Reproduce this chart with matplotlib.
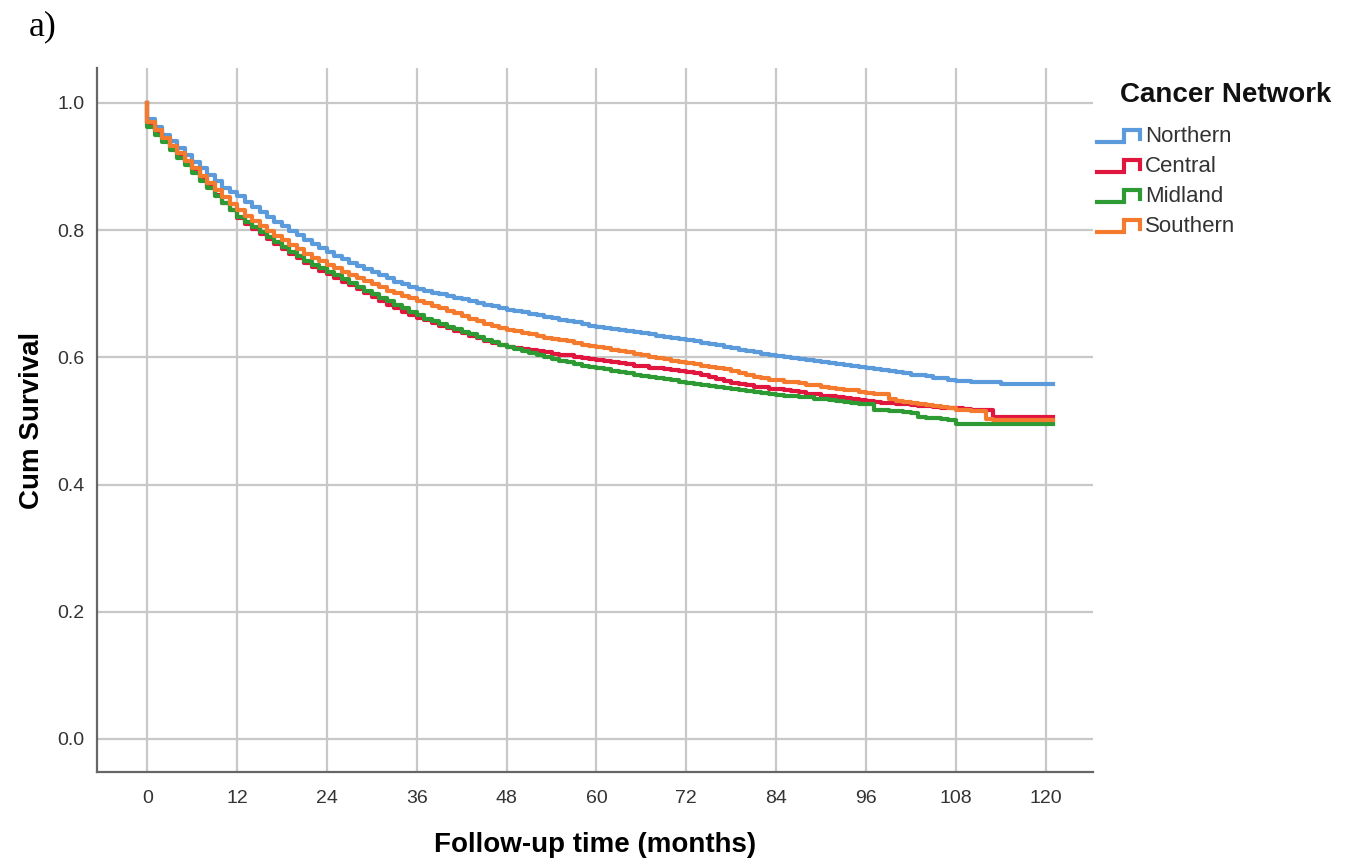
import matplotlib
matplotlib.use("Agg")
import matplotlib.pyplot as plt
from matplotlib.legend_handler import HandlerBase
from matplotlib.lines import Line2D
import numpy as np

plt.rcParams['font.family'] = ['Liberation Sans', 'DejaVu Sans']

# follow-up months (value at month m holds until month m+1)
months = np.arange(0, 122)

northern = [
    0.975, 0.962, 0.950, 0.940, 0.929, 0.918, 0.907, 0.897, 0.887, 0.877, 0.867, 0.860,
    0.853, 0.845, 0.837, 0.829, 0.821, 0.813, 0.806, 0.799, 0.792, 0.785, 0.778, 0.772,
    0.766, 0.760, 0.754, 0.749, 0.744, 0.739, 0.734, 0.729, 0.724, 0.719, 0.715, 0.711,
    0.707, 0.704, 0.701, 0.699, 0.696, 0.693, 0.691, 0.688, 0.686, 0.683, 0.681, 0.678,
    0.675, 0.673, 0.671, 0.668, 0.666, 0.664, 0.662, 0.659, 0.657, 0.655, 0.653, 0.650,
    0.648, 0.646, 0.645, 0.643, 0.641, 0.640, 0.638, 0.636, 0.634, 0.632, 0.630, 0.629,
    0.627, 0.625, 0.623, 0.621, 0.619, 0.616, 0.614, 0.612, 0.610, 0.608, 0.606, 0.604,
    0.602, 0.601, 0.599, 0.598, 0.596, 0.594, 0.593, 0.591, 0.590, 0.588, 0.587, 0.585,
    0.583, 0.582, 0.580, 0.578, 0.577, 0.575, 0.573, 0.572, 0.570, 0.568, 0.567, 0.565,
    0.563, 0.563, 0.562, 0.562, 0.562, 0.562, 0.558, 0.558, 0.558, 0.558, 0.558, 0.558,
    0.558, 0.558,
]

central = [
    0.968, 0.956, 0.944, 0.932, 0.920, 0.907, 0.894, 0.881, 0.868, 0.855, 0.843, 0.831,
    0.819, 0.810, 0.802, 0.794, 0.786, 0.778, 0.770, 0.763, 0.756, 0.749, 0.742, 0.736,
    0.731, 0.725, 0.719, 0.713, 0.707, 0.701, 0.695, 0.689, 0.683, 0.677, 0.672, 0.667,
    0.662, 0.658, 0.654, 0.650, 0.646, 0.642, 0.638, 0.634, 0.630, 0.626, 0.623, 0.620,
    0.617, 0.615, 0.613, 0.611, 0.610, 0.608, 0.606, 0.604, 0.603, 0.601, 0.599, 0.598,
    0.596, 0.594, 0.592, 0.591, 0.589, 0.587, 0.586, 0.584, 0.583, 0.581, 0.580, 0.578,
    0.577, 0.575, 0.572, 0.569, 0.566, 0.563, 0.560, 0.558, 0.556, 0.554, 0.553, 0.551,
    0.550, 0.548, 0.547, 0.545, 0.543, 0.542, 0.540, 0.539, 0.537, 0.536, 0.534, 0.533,
    0.531, 0.530, 0.529, 0.528, 0.527, 0.526, 0.525, 0.524, 0.523, 0.522, 0.521, 0.520,
    0.520, 0.519, 0.518, 0.518, 0.517, 0.507, 0.506, 0.506, 0.506, 0.506, 0.506, 0.506,
    0.506, 0.506,
]

midland = [
    0.962, 0.950, 0.938, 0.926, 0.914, 0.902, 0.890, 0.878, 0.866, 0.854, 0.843, 0.832,
    0.821, 0.813, 0.805, 0.797, 0.789, 0.781, 0.773, 0.766, 0.759, 0.752, 0.746, 0.740,
    0.735, 0.729, 0.723, 0.717, 0.711, 0.705, 0.699, 0.693, 0.688, 0.682, 0.677, 0.671,
    0.666, 0.661, 0.657, 0.652, 0.648, 0.644, 0.640, 0.636, 0.632, 0.628, 0.624, 0.620,
    0.616, 0.613, 0.610, 0.607, 0.604, 0.601, 0.598, 0.595, 0.592, 0.589, 0.587, 0.585,
    0.583, 0.581, 0.579, 0.577, 0.575, 0.573, 0.571, 0.569, 0.567, 0.566, 0.564, 0.562,
    0.560, 0.558, 0.557, 0.555, 0.553, 0.552, 0.550, 0.548, 0.547, 0.545, 0.544, 0.542,
    0.541, 0.540, 0.539, 0.538, 0.537, 0.535, 0.534, 0.533, 0.531, 0.530, 0.529, 0.527,
    0.526, 0.518, 0.517, 0.516, 0.515, 0.514, 0.513, 0.506, 0.505, 0.504, 0.503, 0.502,
    0.496, 0.495, 0.495, 0.495, 0.495, 0.495, 0.495, 0.495, 0.495, 0.495, 0.495, 0.495,
    0.495, 0.495,
]

southern = [
    0.970, 0.957, 0.945, 0.933, 0.921, 0.909, 0.897, 0.885, 0.874, 0.863, 0.852, 0.841,
    0.831, 0.823, 0.815, 0.807, 0.799, 0.791, 0.784, 0.777, 0.770, 0.763, 0.757, 0.751,
    0.745, 0.740, 0.735, 0.730, 0.725, 0.720, 0.715, 0.710, 0.705, 0.701, 0.697, 0.693,
    0.689, 0.685, 0.681, 0.677, 0.673, 0.669, 0.665, 0.661, 0.657, 0.653, 0.650, 0.646,
    0.643, 0.641, 0.638, 0.636, 0.634, 0.631, 0.629, 0.627, 0.625, 0.622, 0.620, 0.618,
    0.616, 0.614, 0.612, 0.610, 0.608, 0.606, 0.604, 0.601, 0.599, 0.597, 0.595, 0.593,
    0.591, 0.589, 0.587, 0.585, 0.583, 0.581, 0.578, 0.575, 0.572, 0.569, 0.567, 0.565,
    0.564, 0.562, 0.561, 0.559, 0.557, 0.556, 0.554, 0.552, 0.551, 0.549, 0.548, 0.546,
    0.544, 0.543, 0.542, 0.534, 0.532, 0.530, 0.528, 0.527, 0.525, 0.523, 0.522, 0.520,
    0.518, 0.517, 0.516, 0.515, 0.503, 0.502, 0.502, 0.502, 0.502, 0.502, 0.502, 0.502,
    0.502, 0.502,
]

networks = ['Northern', 'Central', 'Midland', 'Southern']
series = [northern, central, midland, southern]
colors = ['#5B9BDB', '#E0163F', '#2E9A33', '#F47B2E']
x_ticks = np.arange(0, 121, 12)
y_ticks = [0.0, 0.2, 0.4, 0.6, 0.8, 1.0]


class StepHandler(HandlerBase):
    # little step glyph like the SPSS legend
    def create_artists(self, legend, orig, xd, yd, width, height, fontsize, trans):
        xs = np.array([0, 0.62, 0.62, 1.0, 1.0]) * width - xd
        ys = np.array([0.0, 0.0, 0.75, 0.75, 0.2]) * height - yd
        ln = Line2D(xs, ys, color=orig.get_color(), lw=3, solid_joinstyle='miter')
        ln.set_transform(trans)
        return [ln]


fig = plt.figure(figsize=(13.55, 8.66), dpi=100)
ax = fig.add_axes([0.0716, 0.1085, 0.735, 0.813])

handles = []
for name, vals, c in zip(networks, series, colors):
    xs = np.concatenate([[0], months])
    ys = np.concatenate([[1.0], vals])
    h, = ax.step(xs, ys, where='post', color=c, lw=3, label=name, zorder=3)
    handles.append(h)

ax.set_xlim(-6.7, 126.3)
ax.set_ylim(-0.052, 1.055)
ax.set_xticks(x_ticks)
ax.set_yticks(y_ticks)
ax.set_yticklabels([f'{v:.1f}' for v in y_ticks])
ax.grid(True, color='#c8c8c8', lw=1.6)
ax.set_axisbelow(True)
for s in ['top', 'right']:
    ax.spines[s].set_visible(False)
for s in ['left', 'bottom']:
    ax.spines[s].set_color('#666666')
    ax.spines[s].set_linewidth(1.6)
ax.tick_params(length=0, labelsize=14, colors='#333333', pad=9)
ax.tick_params(axis='x', pad=13)

ax.set_xlabel('Follow-up time (months)', fontsize=20, fontweight='bold')
ax.set_ylabel('Cum Survival', fontsize=20, fontweight='bold')
ax.xaxis.set_label_coords(0.5, -0.085)
ax.yaxis.set_label_coords(-0.052, 0.5)

leg = fig.legend(handles=handles, loc='upper left',
                 bbox_to_anchor=(1097 / 1355, 1 - 126 / 866), frameon=False,
                 fontsize=16, handler_map={Line2D: StepHandler()},
                 handlelength=1.95, handletextpad=0.2, labelspacing=0.4,
                 borderpad=0.0, borderaxespad=0.0)
for t in leg.get_texts():
    t.set_color('#333333')

fig.text(1120 / 1355, 1 - 95 / 866, 'Cancer Network', fontsize=20,
         fontweight='bold', va='center', ha='left', color='#111111')

fig.text(0.021, 0.988, 'a)', fontsize=26, family='Liberation Serif', va='top')

fig.savefig('out.png', dpi=100)
